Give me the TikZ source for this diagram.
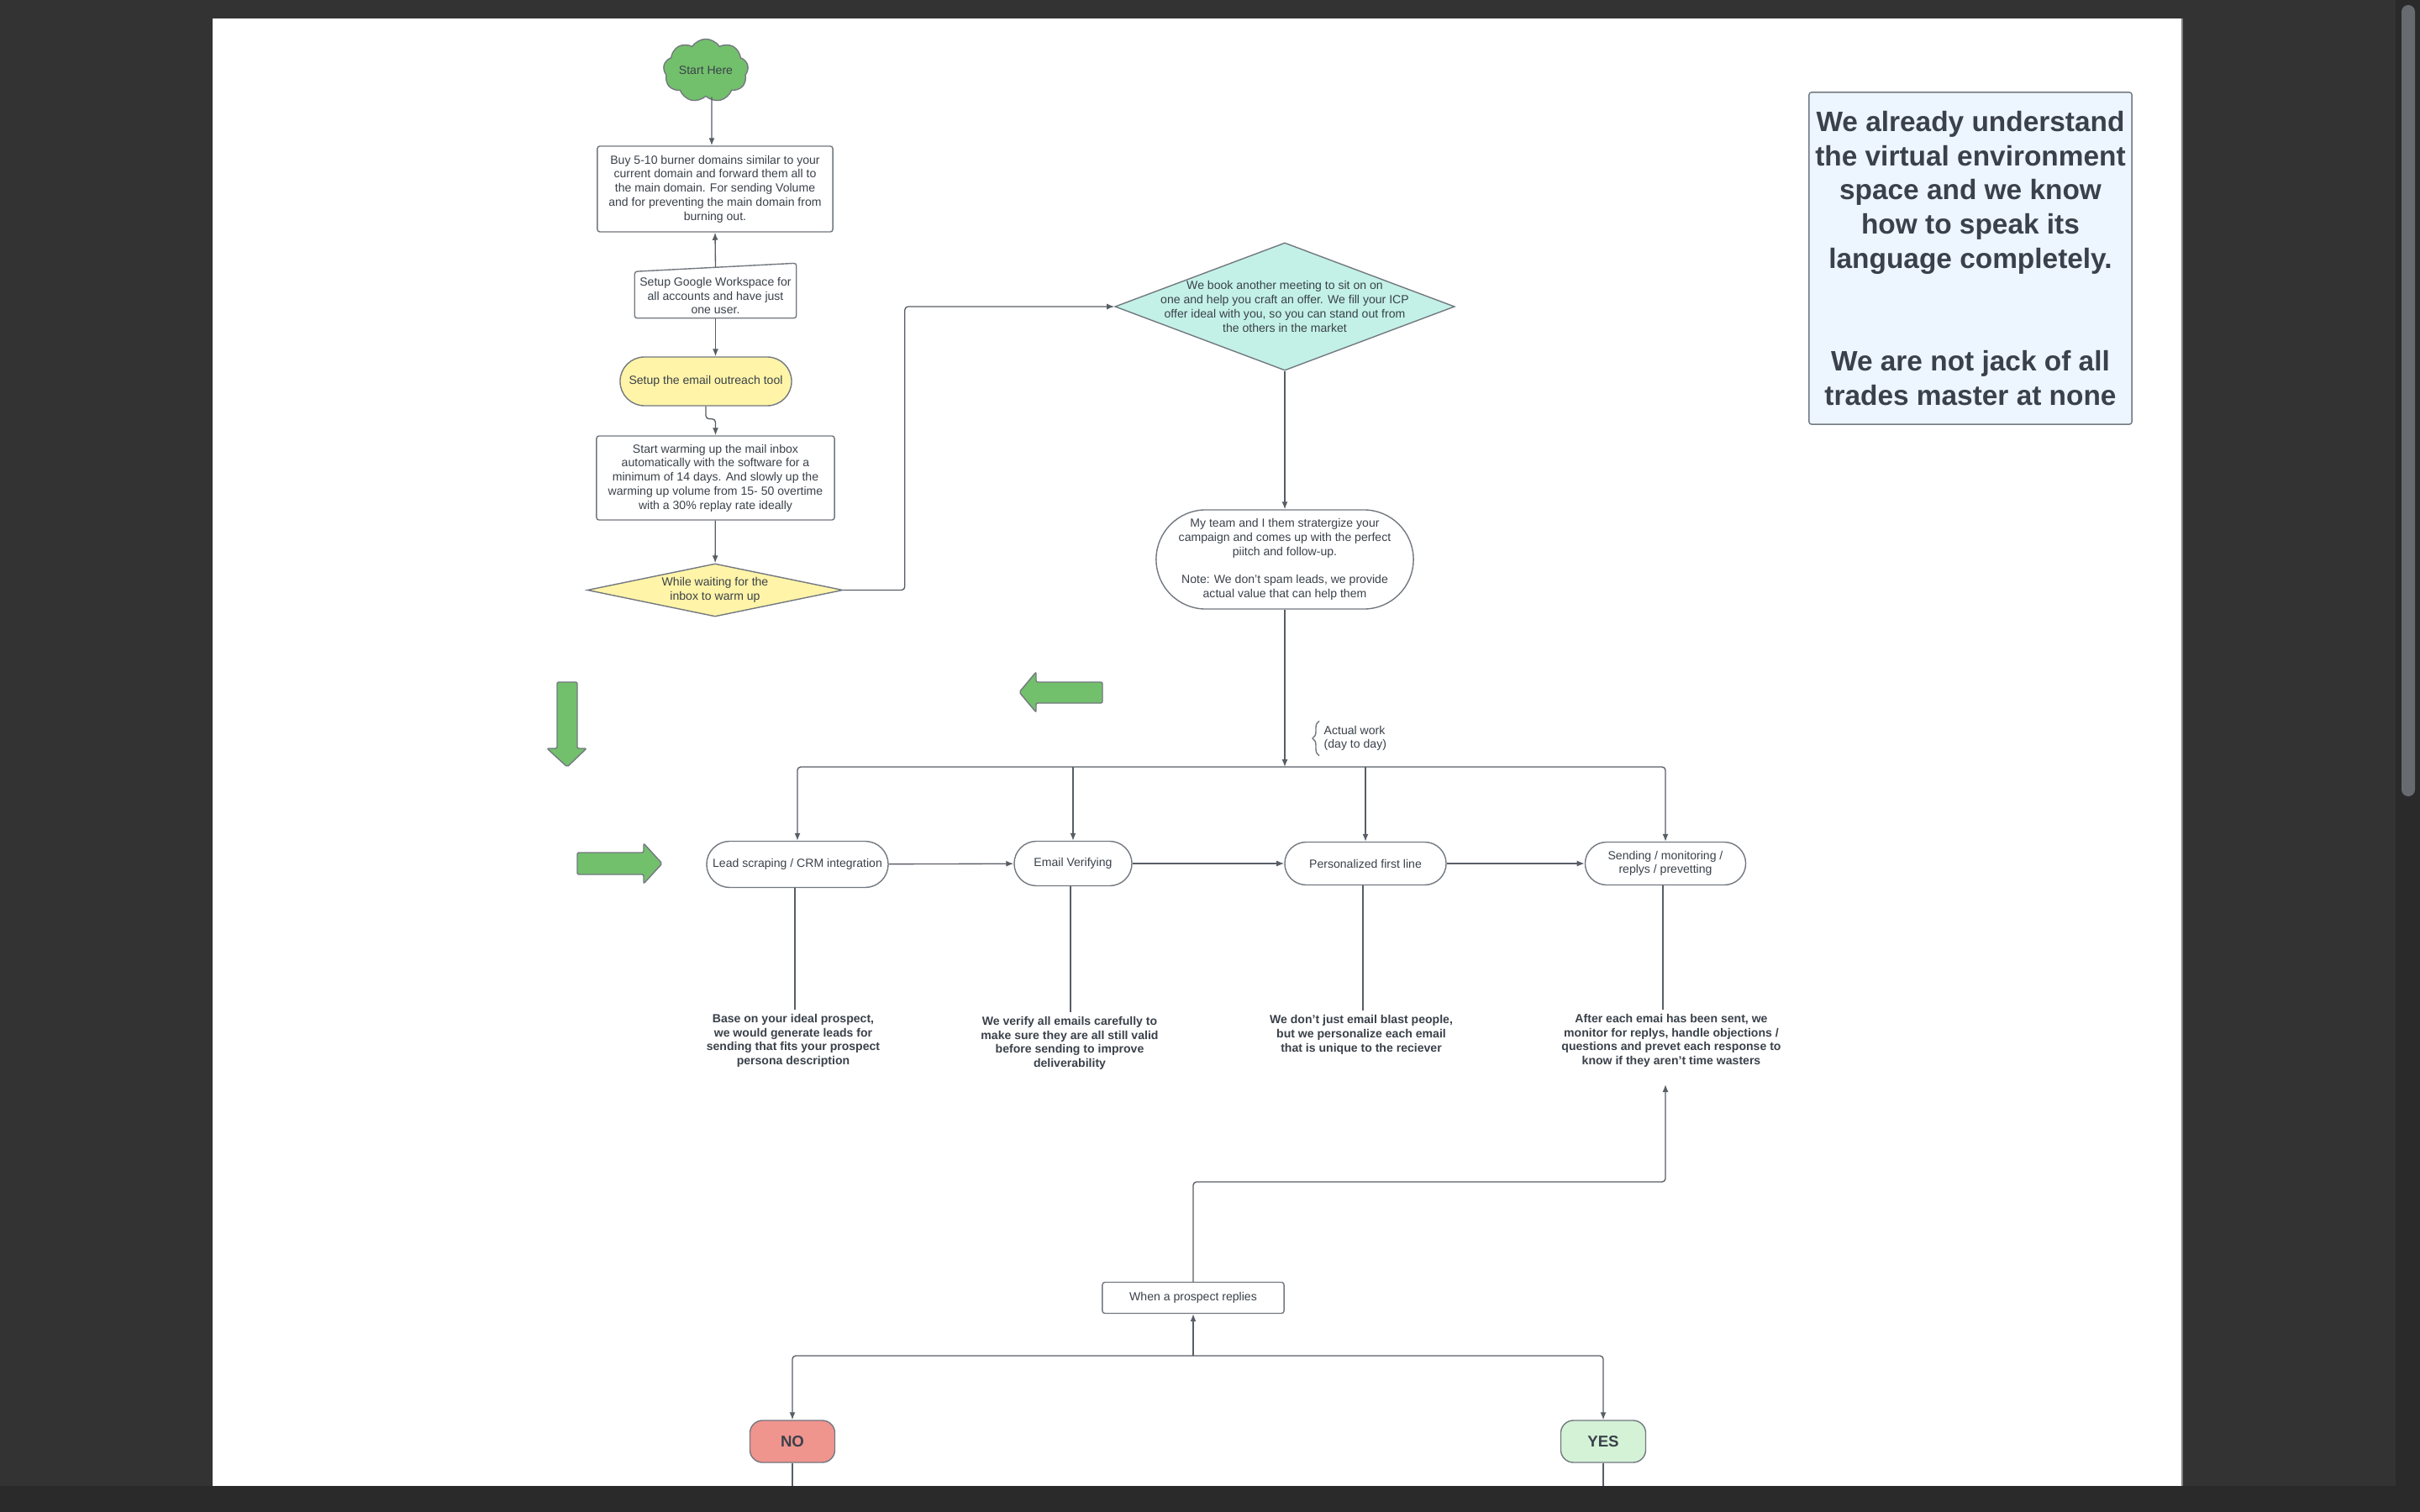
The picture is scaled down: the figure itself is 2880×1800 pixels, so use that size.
\documentclass[tikz,border=0pt]{standalone}
\usepackage{fontspec}
\setmainfont{Liberation Sans}
\usetikzlibrary{arrows.meta,shapes.geometric,shapes.symbols,decorations.pathreplacing}

\definecolor{txt}{HTML}{3A414A}
\definecolor{wire}{HTML}{585E66}
\definecolor{rim}{HTML}{737980}
\definecolor{leaf}{HTML}{73C06C}
\definecolor{butter}{HTML}{FFF4A8}
\definecolor{mint}{HTML}{C3F1E7}
\definecolor{sky}{HTML}{EDF5FE}
\definecolor{coral}{HTML}{F0948E}
\definecolor{pale}{HTML}{D4F2D6}
\definecolor{shell}{HTML}{333333}
\definecolor{frame}{HTML}{2A2A2A}
\definecolor{thumb}{HTML}{676B70}

\def\smallfont{\fontsize{4}{4.75}\selectfont}
\def\bigfont{\fontsize{9.5}{11.6}\selectfont\bfseries}

\begin{document}
\begin{tikzpicture}[x=0.01cm, y=-0.01cm, >={Latex[length=0.9mm,width=0.7mm]}]
		\tikzstyle{every node}=[font=\smallfont, text=txt, align=center]
		\tikzstyle{box}=[rectangle, draw=rim, line width=0.4pt, rounded corners=0.03cm, inner sep=0pt, fill=white]
		\tikzstyle{pill}=[box]
		\tikzstyle{note}=[font=\smallfont\bfseries, inner sep=0.5mm]
		\tikzstyle{link}=[draw=wire, line width=0.38pt, rounded corners=0.04cm]
		\tikzstyle{fat}=[fill=leaf, draw=rim, line width=0.4pt, rounded corners=0.02cm]
		\tikzstyle{verdict}=[box, rounded corners=0.15cm, minimum width=1.01cm, minimum height=0.5cm, font=\fontsize{5.3}{6}\selectfont\bfseries]
		
		\useasboundingbox (0,0) rectangle (2880,1800);
		\fill[shell] (0,0) rectangle (2880,1800);
		\fill[white] (253,22) rectangle (2597,1769);
		\draw[gray, line width=0.3pt] (2597,22) -- (2597,1769);
		\fill[frame] (2851,0) rectangle (2880,1800);
		\fill[thumb, rounded corners=0.08cm] (2858,6) rectangle (2874,948);
		
		% setup column
		\node[cloud, cloud puffs=9, cloud puff arc=115, cloud ignores aspect, draw=rim, fill=leaf, line width=0.4pt, minimum width=1.01cm, minimum height=0.75cm, inner sep=0pt, label=center:Start Here] (start) at (840,84) {};
		\node[box, minimum width=2.8cm, minimum height=1.02cm] (buy) at (851,225) {Buy 5-10 burner domains similar to your\\current domain and forward them all to\\the main domain. For sending Volume\\and for preventing the main domain from\\burning out.};
		\node[inner sep=0pt, minimum width=1.91cm, minimum height=0.52cm] (gws) at (851.5,352) {Setup Google Workspace for\\all accounts and have just\\one user.};
		\draw[draw=rim, line width=0.4pt, rounded corners=0.03cm] (gws.south west) -- ([yshift=0.02cm]gws.north west) -- ([yshift=0.12cm]gws.north east) -- (gws.south east) -- cycle;
		\node[pill, fill=butter, rounded corners=0.29cm, minimum width=2.04cm, minimum height=0.58cm] (tool) at (840,454) {Setup the email outreach tool};
		\node[box, minimum width=2.83cm, minimum height=1.0cm] (warm) at (851.5,569) {Start warming up the mail inbox\\automatically with the software for a\\minimum of 14 days. And slowly up the\\warming up volume from 15- 50 overtime\\with a 30\% replay rate ideally};
		\node[diamond, draw=rim, fill=butter, line width=0.4pt, minimum width=3.04cm, minimum height=0.63cm, inner sep=0pt, label={center:{While waiting for the\\inbox to warm up}}] (wait) at (851,702.5) {};
		
		% strategy column
		\node[diamond, draw=rim, fill=mint, line width=0.4pt, minimum width=4.04cm, minimum height=1.52cm, inner sep=0pt, label={center:{We book another meeting to sit on on\\one and help you craft an offer. We fill your ICP\\offer ideal with you, so you can stand out from\\the others in the market}}] (book) at (1529,365) {};
		\node[pill, rounded corners=0.59cm, minimum width=3.06cm, minimum height=1.18cm] (team) at (1529,666) {My team and I them stratergize your\\campaign and comes up with the perfect\\piitch and follow-up.\\[4.75pt]Note: We don't spam leads, we provide\\actual value that can help them};
		
		\node[box, fill=sky, rounded corners=0.03cm, minimum width=3.84cm, minimum height=3.95cm, font=\bigfont] (claim) at (2345,307.5) {We already understand\\the virtual environment\\space and we know\\how to speak its\\language completely.\\[23.2pt]We are not jack of all\\trades master at none};
		
		% green pointers
		\draw[fat] (663,812) -- (687,812) -- (687,891) -- (698,891) -- (675,913) -- (651,891) -- (663,891) -- cycle;
		\draw[fat] (1312,812) -- (1233,812) -- (1233,800) -- (1213,824) -- (1233,848) -- (1233,837) -- (1312,837) -- cycle;
		\draw[fat] (687,1015) -- (766,1015) -- (766,1004) -- (788,1028) -- (766,1052) -- (766,1041) -- (687,1041) -- cycle;
		
		% day to day work
		\node[anchor=west, align=left, inner sep=0.5mm] (aw) at (1570,879) {Actual work\\(day to day)};
		\draw[draw=rim, line width=0.4pt, decorate, decoration={brace, amplitude=0.08cm}] (aw.south west) -- (aw.north west);
		
		\node[pill, rounded corners=0.275cm, minimum width=2.16cm, minimum height=0.55cm] (w-1) at (949,1029) {Lead scraping / CRM integration};
		\node[pill, rounded corners=0.265cm, minimum width=1.40cm, minimum height=0.53cm] (w-2) at (1277,1028) {Email Verifying};
		\node[pill, rounded corners=0.255cm, minimum width=1.92cm, minimum height=0.51cm] (w-3) at (1625,1028) {Personalized first line};
		\node[pill, rounded corners=0.255cm, minimum width=1.91cm, minimum height=0.51cm] (w-4) at (1982,1028) {Sending / monitoring /\\replys / prevetting};
		
		\node[note] (d-1) at (944,1239) {Base on your ideal prospect,\\we would generate leads for\\sending that fits your prospect\\persona description};
		\node[note] (d-2) at (1273,1242) {We verify all emails carefully to\\make sure they are all still valid\\before sending to improve\\deliverability};
		\node[note] (d-3) at (1620,1232) {We don't just email blast people,\\but we personalize each email\\that is unique to the reciever};
		\node[note] (d-4) at (1989,1239) {After each emai has been sent, we\\monitor for replys, handle objections /\\questions and prevet each response to\\know if they aren't time wasters};
		
		% replies
		\node[box, minimum width=2.16cm, minimum height=0.37cm] (reply) at (1420,1545) {When a prospect replies};
		\node[verdict, fill=coral] (no) at (943,1716) {NO};
		\node[verdict, fill=pale] (yes) at (1908,1716) {YES};
		
		\coordinate (bus) at (1529,913);
		\coordinate (back) at (1982,1291);
		\coordinate (fork) at (1420,1614);
		\coordinate (floor) at (0,1769);
		
		\draw[link,->] ([xshift=0.07cm]start.south) -- ([xshift=-0.04cm]buy.north);
		\draw[link,->] ([yshift=0.07cm]gws.north) -- (buy.south);
		\draw[link,->] (gws.south) -- (gws.south |- tool.north);
		\draw[link,->] (tool.south) -- ++(0,15) -| (warm.north);
		\draw[link,->] (warm) -- (wait);
		\draw[link,->] (wait.east) -- ++(73,0) |- (book.west);
		\draw[link,->] (book) -- (team);
		\draw[link,->] (team) -- (bus);
		\draw[link,->] (bus) -| (w-1);
		\draw[link,->] (bus) -| (w-4);
		\foreach \i in {2,3}
		\draw[link,->] (bus -| w-\i) -- (w-\i);
		\foreach \a/\b in {1/2,2/3,3/4}
		\draw[link,->] (w-\a) -- (w-\b);
		\foreach \i in {1,...,4}
		\draw[link] ([xshift=-0.03cm]w-\i.south) -- ([xshift=-0.03cm]w-\i.south |- d-\i.north);
		
		\draw[link,->] (reply) -- ++(0,-138) -| (back);
		\draw[link,->] (fork) -- (reply);
		\draw[link,->] (fork) -| (no);
		\draw[link,->] (fork) -| (yes);
		\draw[link] (no.south) -- (no.south |- floor);
		\draw[link] (yes.south) -- (yes.south |- floor);
		
		\fill[frame] (0,1769) rectangle (2880,1800);
\end{tikzpicture}
\end{document}
